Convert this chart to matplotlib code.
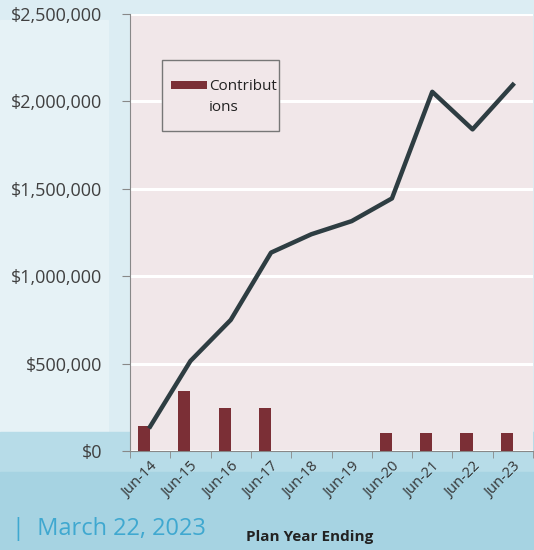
import numpy as np
import matplotlib
matplotlib.use("Agg")
import matplotlib.pyplot as plt
from matplotlib.patches import Rectangle
from matplotlib.ticker import FuncFormatter, FixedLocator

plt.rcParams["font.family"] = ["Open Sans", "DejaVu Sans"]

years = ["Jun-14", "Jun-15", "Jun-16", "Jun-17", "Jun-18",
         "Jun-19", "Jun-20", "Jun-21", "Jun-22", "Jun-23"]
contributions = [145000, 345000, 245000, 245000, 0, 0, 105000, 105000, 105000, 105000]
balance = [140000, 515000, 750000, 1135000, 1240000, 1315000, 1445000, 2055000, 1840000, 2095000]

fig = plt.figure(figsize=(5.34, 5.50), dpi=100)
fig.patch.set_facecolor("#dcedf3")

# background bands of the slide, drawn behind the chart (pixel coords)
bg = fig.add_axes([0, 0, 1, 1], zorder=-10)
bg.set_xlim(0, 534)
bg.set_ylim(550, 0)
bg.axis("off")
bg.add_patch(Rectangle((0, 0), 534, 550, color="#dcedf3"))
bg.add_patch(Rectangle((0, 20), 108, 420, color="#e6f2f6"))
bg.add_patch(Rectangle((0, 432), 534, 118, color="#b7dce8"))
bg.add_patch(Rectangle((0, 472), 534, 78, color="#a6d3e2"))

ax = fig.add_axes([130 / 534, 99 / 550, 403 / 534, 437 / 550])
ax.set_facecolor("#f1e7e9")

x = np.arange(len(years))
ax.bar(x - 0.15, contributions, width=0.3, color="#7b2f36", label="Contribut", zorder=3)
ax.plot(x, balance, color="#2e3d42", lw=3.2, zorder=4)

ax.set_xlim(-0.5, len(years) - 0.5)
ax.set_ylim(0, 2500000)
ax.set_yticks(np.arange(0, 2500001, 500000))
ax.yaxis.set_major_formatter(FuncFormatter(lambda v, p: f"${v:,.0f}"))
ax.grid(axis="y", color="white", lw=2.2, zorder=1)
ax.set_axisbelow(True)

ax.set_xticks(x)
ax.set_xticklabels(years, rotation=45, ha="right", rotation_mode="anchor", fontsize=10.5, color="#333333")
ax.xaxis.set_minor_locator(FixedLocator(np.arange(-0.5, len(years), 1)))
ax.tick_params(axis="x", which="major", length=0, pad=6)
ax.tick_params(axis="x", which="minor", length=5, color="#888888")
ax.tick_params(axis="y", length=6, color="#888888", labelsize=13, labelcolor="#404040", pad=14)

for s in ["top", "right"]:
    ax.spines[s].set_visible(False)
ax.spines["left"].set_color("#888888")
ax.spines["bottom"].set_color("#888888")

# legend box as in the original: label wrapped over two lines
ax.add_patch(Rectangle((162 / 534, 1 - 131 / 550), 117 / 534, 71 / 550, transform=fig.transFigure,
                       facecolor="#f1e7e9", edgecolor="#777777", lw=1, zorder=4.5, clip_on=False))
leg = ax.legend(loc="center left", bbox_to_anchor=(171 / 534, 1 - 87 / 550),
                bbox_transform=fig.transFigure, borderaxespad=0, borderpad=0,
                fontsize=11, frameon=False, handlelength=2.35, handleheight=0.4,
                handletextpad=0.15)
fig.text(209 / 534, 1 - 108 / 550, "ions", ha="left", va="center", fontsize=11, color="#222222")
for t in leg.get_texts():
    t.set_color("#222222")

fig.text(310 / 534, 1 - 537 / 550, "Plan Year Ending", ha="center", va="center",
         fontsize=11, fontweight="bold", color="#222222")
fig.text(12 / 534, 1 - 529 / 550, "|  March 22, 2023", ha="left", va="center",
         fontsize=17, color="#3fa8d0")

fig.savefig("out.png", dpi=100, facecolor=fig.get_facecolor())
